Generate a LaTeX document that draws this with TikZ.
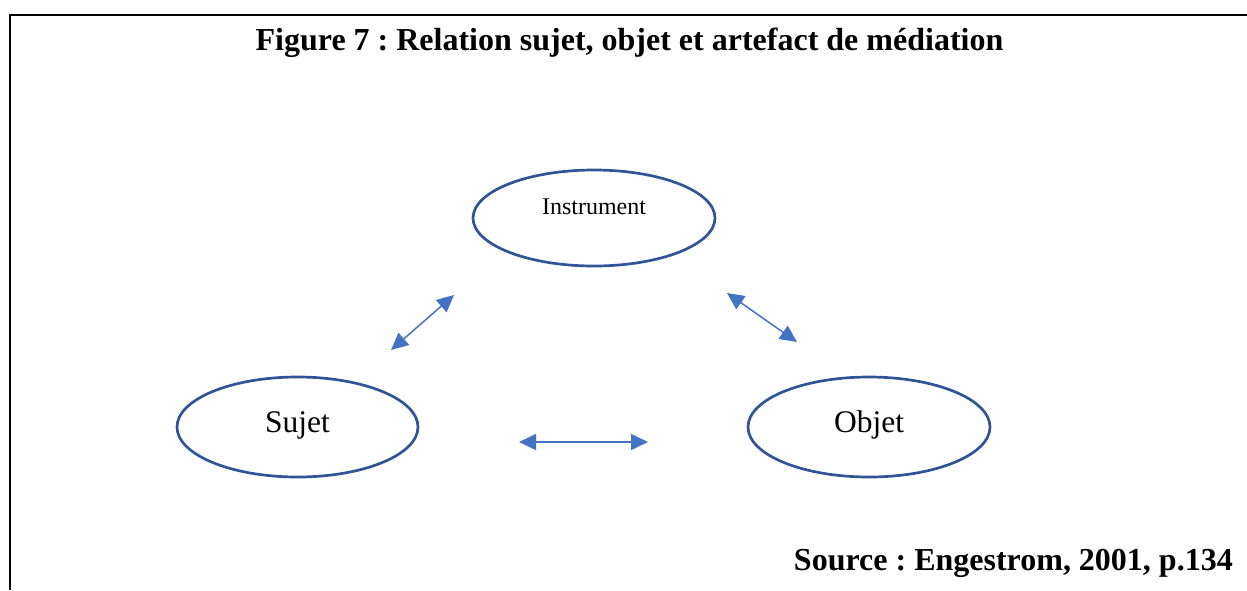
\documentclass[tikz,border=0pt]{standalone}
\usepackage{fontspec}
\setmainfont{Liberation Serif}
\usetikzlibrary{arrows.meta}
\definecolor{ellblue}{HTML}{2F5597}
\definecolor{arrblue}{HTML}{4472C4}
\frenchspacing
\tikzset{
  rel/.style={draw=arrblue, line width=1.5pt, {Triangle[length=17pt,width=16pt]}-{Triangle[length=17pt,width=16pt]}},
  frameline/.style={draw=black, line width=2.6pt},
  ellline/.style={draw=ellblue, line width=2.7pt}
}
\begin{document}
\begin{tikzpicture}[x=1pt,y=-1pt]
\useasboundingbox (0,0) rectangle (1247,590);
% frame
\coordinate (fbl) at (10,590);
\coordinate (ftl) at (10,15);
\coordinate (ftr) at (1247,15);
\draw[frameline] (fbl) -- (ftl) -- (ftr);
% title
\node[anchor=base, font=\fontsize{32}{36}\selectfont\bfseries, inner sep=0pt] (title) at (629.5,50) {Figure 7 : Relation sujet, objet et artefact de médiation};
% ellipses
\draw[ellline] (594,218) ellipse [x radius=121, y radius=48];
\node[anchor=base, font=\fontsize{24}{28}\selectfont, inner sep=0pt] (instr) at (594,214) {Instrument};
\draw[ellline] (297.5,427) ellipse [x radius=120.5, y radius=50];
\node[anchor=base, font=\fontsize{31.5}{36}\selectfont, inner sep=0pt] (sujet) at (297.5,432) {Sujet};
\draw[ellline] (869,427) ellipse [x radius=121, y radius=50];
\node[anchor=base, font=\fontsize{31.5}{36}\selectfont, inner sep=0pt] (objet) at (869,432) {Objet};
% arrows
\coordinate (a1s) at (391,350);
\coordinate (a1e) at (454,295);
\coordinate (a2s) at (727,293);
\coordinate (a2e) at (797,342);
\coordinate (a3s) at (519,442);
\coordinate (a3e) at (648,442);
\draw[rel] (a1s) -- (a1e);
\draw[rel] (a2s) -- (a2e);
\draw[rel] (a3s) -- (a3e);
% source
\node[anchor=base east, font=\fontsize{32}{36}\selectfont\bfseries, inner sep=0pt] (source) at (1233,570) {Source : Engestrom, 2001, p.134};
\end{tikzpicture}
\end{document}
